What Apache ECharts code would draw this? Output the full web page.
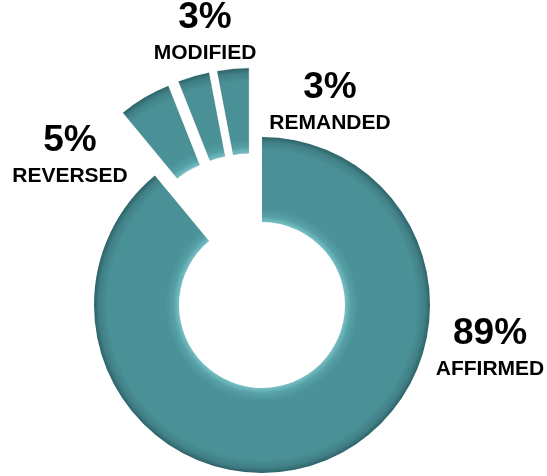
<!DOCTYPE html>
<html>
<head>
<meta charset="utf-8">
<script src="https://cdn.jsdelivr.net/npm/echarts@6/dist/echarts.min.js"></script>
<style>html,body{margin:0;padding:0;background:#fff}#c{width:547px;height:476px}</style>
</head>
<body>
<div id="c"></div>
<script>
const categories = ['AFFIRMED', 'REVERSED', 'MODIFIED', 'REMANDED'];
const values = [89, 5, 3, 3];
const exploded = [false, true, true, true];

// layout (not data)
const C1 = [262, 305];
const C2 = [253, 281];
const R_IN = 83, R_OUT = 168, OFFSET = 45;
const labelPos = [[490, 351], [70, 158], [205, 35], [330, 105]];

function ringGradient(cx, cy) {
  return {
    type: 'radial', x: cx, y: cy, r: R_OUT, global: true,
    colorStops: [
      { offset: 0, color: '#76bfc5' },
      { offset: R_IN / R_OUT, color: '#76bfc5' },
      { offset: R_IN / R_OUT + 0.035, color: '#55a0a6' },
      { offset: R_IN / R_OUT + 0.08, color: '#4b9198' },
      { offset: 0.92, color: '#4a9097' },
      { offset: 0.97, color: '#407f85' },
      { offset: 1, color: '#2c6368' }
    ]
  };
}

const data1 = [], data2 = [];
values.forEach((v, i) => {
  data1.push({
    name: categories[i], value: v,
    itemStyle: exploded[i] ? { color: 'rgba(0,0,0,0)' } : { color: ringGradient(C1[0], C1[1]) }
  });
  data2.push({
    name: categories[i], value: v,
    selected: exploded[i],
    itemStyle: exploded[i] ? { color: ringGradient(C2[0], C2[1]), borderColor: 'rgba(30,80,85,0.3)', borderWidth: 0.6 } : { color: 'rgba(0,0,0,0)' }
  });
});

const chart = echarts.init(document.getElementById('c'), null, { renderer: 'canvas' });
chart.setOption({
  animation: false,
  series: [
    {
      type: 'pie',
      center: C1,
      radius: [R_IN, R_OUT],
      startAngle: 90,
      clockwise: true,
      avoidLabelOverlap: false,
      silent: true,
      label: {
        show: true,
        position: 'outside',
        formatter: p => '{p|' + p.value + '%}\n{n|' + p.name + '}',
        rich: {
          p: { fontFamily: 'Liberation Sans, Arial, sans-serif', fontWeight: 'bold', fontSize: 37, lineHeight: 36, color: '#000', align: 'center' },
          n: { fontFamily: 'Liberation Sans, Arial, sans-serif', fontWeight: 'bold', fontSize: 21, lineHeight: 34, color: '#000', align: 'center' }
        }
      },
      labelLine: { show: false },
      labelLayout: params => ({
        x: labelPos[params.dataIndex][0],
        y: labelPos[params.dataIndex][1],
        align: 'center',
        verticalAlign: 'middle'
      }),
      emphasis: { disabled: true },
      data: data1
    },
    {
      type: 'pie',
      center: C2,
      radius: [R_IN, R_OUT],
      startAngle: 90,
      clockwise: true,
      selectedMode: 'multiple',
      selectedOffset: OFFSET,
      silent: true,
      label: { show: false },
      labelLine: { show: false },
      emphasis: { disabled: true },
      data: data2
    }
  ]
});
</script>
</body>
</html>
